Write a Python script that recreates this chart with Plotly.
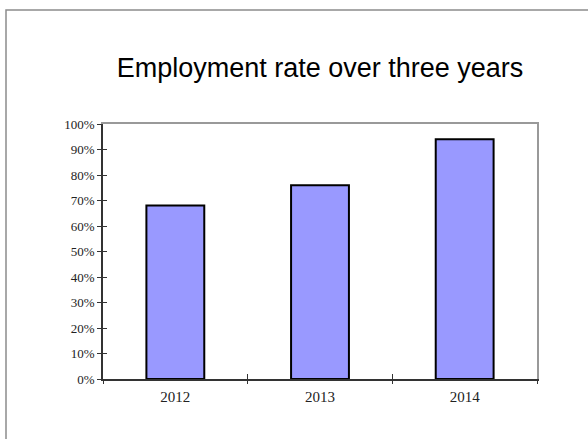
import plotly.graph_objects as go

years = ["2012", "2013", "2014"]
rates = [0.68, 0.76, 0.94]
title_text = "Employment rate over three years"

W, H = 588, 439
L, R, T, B = 103, 51, 124, 60
pw, ph = W - L - R, H - T - B

fig = go.Figure()
fig.add_trace(go.Bar(
    x=years, y=rates, width=0.4,
    marker=dict(color="#9999FF", line=dict(color="#000000", width=2)),
    hoverinfo="x+y", showlegend=False,
))

n = len(years)
bounds = [i - 0.5 for i in range(n + 1)]

serif = "Liberation Serif, Times New Roman, serif"

fig.update_layout(
    width=W, height=H,
    margin=dict(l=L, r=R, t=T, b=B),
    paper_bgcolor="white", plot_bgcolor="white",
    title=dict(text=title_text, x=0.5, xref="paper", y=1 - 68 / H, yref="container",
               xanchor="center", yanchor="middle",
               font=dict(family="Liberation Sans, Arial, sans-serif", size=27, color="#000000")),
    xaxis=dict(type="category", range=[-0.5, n - 0.5], tickson="boundaries",
               ticks="outside", ticklen=3, tickwidth=1, tickcolor="#333333",
               showline=True, linecolor="#333333", linewidth=1.5,
               showgrid=False, zeroline=False, ticklabelstandoff=3,
               tickfont=dict(family=serif, size=15, color="#222222")),
    yaxis=dict(range=[0, 1], dtick=0.1, tickformat=".0%",
               ticks="outside", ticklen=4, tickwidth=1, tickcolor="#333333",
               showline=True, linecolor="#333333", linewidth=1.5,
               showgrid=False, zeroline=False,
               tickfont=dict(family=serif, size=13, color="#222222")),
    xaxis2=dict(overlaying="x", side="top", range=[-0.5, n - 0.5],
                showline=True, linecolor="#999999", linewidth=2,
                showticklabels=False, ticks="", showgrid=False, zeroline=False),
    yaxis2=dict(overlaying="y", side="right", range=[0, 1],
                showline=True, linecolor="#999999", linewidth=2,
                showticklabels=False, ticks="", showgrid=False, zeroline=False),
    xaxis3=dict(overlaying="x", side="bottom", range=[-0.5, n - 0.5],
                tickvals=bounds, ticks="inside", ticklen=5, tickwidth=1, tickcolor="#333333",
                showticklabels=False, showline=False, showgrid=False, zeroline=False),
    yaxis3=dict(overlaying="y", side="left", range=[0, 1], dtick=0.1,
                ticks="inside", ticklen=4, tickwidth=1, tickcolor="#333333",
                showticklabels=False, showline=False, showgrid=False, zeroline=False),
)

# invisible anchors so overlay axes render
fig.add_trace(go.Scatter(x=[None], y=[None], xaxis="x2", yaxis="y2", showlegend=False, hoverinfo="skip"))
fig.add_trace(go.Scatter(x=[None], y=[None], xaxis="x3", yaxis="y3", showlegend=False, hoverinfo="skip"))

# outer chart-area border (clipped at the right and bottom in the reference)
fig.add_shape(type="rect", xref="paper", yref="paper",
              x0=(6 - L) / pw, x1=(W + 20 - L) / pw,
              y0=-(H + 20 - (T + ph)) / ph, y1=(T + ph - 10) / ph,
              line=dict(color="#8c8c8c", width=1.5), fillcolor="rgba(0,0,0,0)", layer="below")

fig.write_html("out.html", config={"displayModeBar": False},
               post_script="document.body.style.margin='0';document.body.style.overflow='hidden';")
